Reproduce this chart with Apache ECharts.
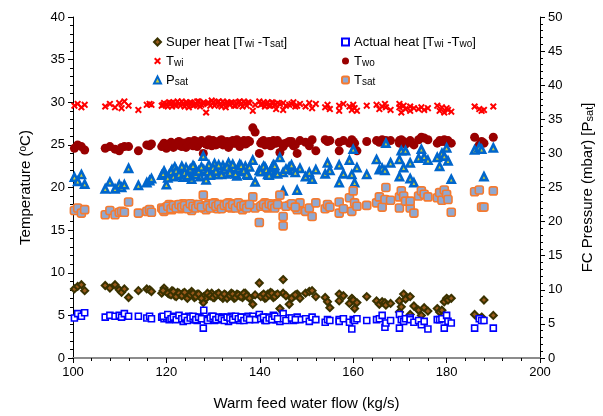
<!DOCTYPE html>
<html><head><meta charset="utf-8">
<script src="https://cdn.jsdelivr.net/npm/echarts@6/dist/echarts.min.js"></script>
<style>html,body{margin:0;padding:0;background:#fff}#c{width:603px;height:416px}</style>
</head><body><div id="c"></div>
<script>
// Warm feed water flow (kg/s)
const flow = [100.3,101.0,101.8,102.5,106.9,107.9,109.0,109.9,110.4,111.0,111.9,114.0,115.8,116.4,116.8,
119.0,119.5,120.0,120.6,121.2,121.8,122.4,123.0,123.6,124.2,124.8,125.4,126.0,126.6,127.2,127.9,128.0,128.5,129.1,129.7,
130.3,130.9,131.5,132.1,132.7,133.3,133.9,134.5,135.1,135.7,136.3,136.9,137.5,138.5,139.0,139.9,140.5,141.1,141.7,142.3,
142.9,143.5,144.3,145.0,145.0,146.3,147.2,148.0,148.6,149.8,150.6,151.2,152.0,154.0,154.5,155.0,157.0,157.0,157.9,159.2,
159.7,160.0,160.3,160.8,162.9,165.0,165.6,166.2,166.8,167.0,168.0,169.9,169.9,170.3,170.8,171.2,172.2,172.2,173.0,174.0,
174.6,175.2,176.0,178.0,178.5,179.0,179.5,180.0,180.3,181.0,186.0,187.0,187.5,188.0,190.0,
119.3,120.3,121.0,121.5,122.1,122.7,123.3,123.9,124.5,125.1,125.7,126.3,126.9,127.5,128.8,129.4,130.0,130.6,131.2,131.8,
132.4,133.0,133.6,134.2,134.8,135.4,136.0,136.6,137.2,137.8,140.2,140.8,141.4,142.0,142.6,143.2,143.8,145.6,146.8,147.6];
// Twi (°C)
const twi = [29.6,29.8,29.4,29.7,29.5,29.8,29.4,29.9,29.3,30.1,29.6,29.1,29.7,29.8,29.7,
29.6,29.9,29.8,30.0,29.5,29.7,30.1,29.6,29.8,30.0,29.4,29.9,29.7,30.1,29.5,29.8,30.0,28.8,29.9,30.2,
29.6,30.0,29.7,30.1,29.4,29.9,30.0,29.6,29.8,30.1,29.5,29.9,30.0,29.0,29.7,30.1,29.8,29.5,30.0,29.6,
29.9,29.2,29.8,29.1,29.9,29.7,30.0,29.6,29.8,29.5,29.9,29.3,29.8,29.4,29.7,29.2,29.6,29.0,29.8,29.5,
29.1,29.7,29.3,29.0,29.6,29.7,29.2,29.5,29.8,29.4,29.1,29.8,29.4,28.8,29.6,29.2,29.5,29.0,29.3,29.2,
29.4,29.1,29.3,29.6,29.0,29.4,28.8,29.3,29.1,28.9,29.5,29.2,29.0,29.1,29.5,
29.7,29.5,29.9,30.0,29.6,29.8,30.1,29.5,29.9,30.0,29.6,29.8,30.1,29.7,29.9,29.6,30.0,29.8,30.1,29.5,
29.9,30.0,29.7,29.9,29.6,30.0,29.8,30.1,29.6,29.9,29.7,30.0,29.8,29.6,30.0,29.7,29.9,29.6,29.8,29.5];
// Two (°C)
const two = [24.6,25.0,24.8,24.4,24.6,24.8,24.5,24.3,24.7,24.8,24.8,24.3,25.0,24.9,25.1,
24.8,25.2,24.6,25.1,25.0,24.9,25.3,24.9,25.2,24.7,25.4,25.0,25.5,24.8,25.2,24.0,25.3,25.1,25.6,24.9,
25.4,25.1,25.5,25.0,25.3,24.7,25.4,25.2,25.6,24.8,25.3,25.1,25.5,27.0,26.5,24.0,25.4,25.0,25.3,24.9,
25.5,25.2,24.1,25.1,24.8,25.4,24.9,24.0,25.5,25.3,24.9,25.6,24.3,25.6,25.4,25.5,24.3,25.3,25.5,25.2,
25.6,25.4,25.2,24.3,25.4,25.5,25.3,25.6,25.4,25.5,25.5,25.5,25.2,25.6,25.4,25.1,25.5,25.3,25.0,25.6,
25.9,25.8,25.6,25.2,25.5,25.4,25.6,25.3,25.5,25.2,25.9,25.0,25.4,25.2,25.9,
25.0,24.9,25.3,24.7,25.1,25.4,24.8,25.2,25.0,25.3,24.9,25.4,25.1,25.5,25.0,25.3,25.5,25.0,25.3,25.6,
25.2,25.4,25.0,25.5,25.2,25.4,25.1,25.5,25.2,25.4,25.2,25.5,25.1,25.4,25.0,25.3,25.5,25.2,25.4,25.0];
// Psat (mbar)
const psat = [26.5,25.9,26.9,25.5,24.8,25.8,24.8,25.4,25.0,25.4,27.8,25.3,25.7,26.0,26.3,
26.8,27.4,25.4,26.9,27.6,28.0,26.8,27.1,26.5,27.9,27.3,26.2,28.0,27.0,26.6,29.6,27.6,26.1,28.3,27.2,
28.5,26.9,27.8,28.2,27.0,28.6,27.4,27.9,26.7,28.4,27.3,28.1,26.8,29.0,25.8,27.5,27.7,28.0,26.9,27.4,
28.3,27.1,29.4,24.5,27.2,28.0,27.5,24.6,27.8,26.6,27.2,26.2,27.6,27.0,28.6,27.5,28.3,25.7,27.0,29.0,
26.9,30.6,25.7,27.9,26.9,29.1,27.6,27.8,27.5,31.5,28.6,29.1,26.6,30.4,27.9,30.4,28.6,26.3,25.7,29.3,
30.6,29.5,29.0,29.4,28.1,30.0,29.6,30.8,28.9,26.2,30.5,30.9,30.6,26.6,30.8,
27.0,26.4,27.3,26.6,27.5,26.9,28.1,27.2,26.7,27.7,28.2,26.9,27.4,28.0,27.3,26.8,27.9,27.4,28.3,26.9,
27.6,28.0,27.2,28.4,27.0,27.8,28.2,27.5,26.9,28.0,27.3,28.1,27.6,26.8,27.9,28.2,27.0,27.7,28.3,27.2];
// Tsat (°C)
const tsat = [17.3,17.6,17.0,17.4,16.8,17.3,16.8,17.1,17.2,17.1,18.3,17.0,17.2,17.4,17.1,
17.6,17.2,17.7,18.0,17.4,17.8,17.9,17.5,18.1,17.6,17.8,17.3,18.0,17.7,17.9,19.1,17.6,17.4,18.1,17.8,
18.2,17.5,17.9,18.0,17.7,18.2,17.6,18.1,17.8,17.9,17.4,18.0,17.7,18.9,17.6,15.9,17.9,18.2,17.6,18.0,
17.8,18.1,19.1,16.6,15.5,17.9,18.0,17.4,18.2,17.2,17.6,16.6,18.2,17.5,18.0,17.7,17.0,18.3,17.5,18.8,
17.2,19.6,18.2,17.8,17.9,18.2,18.9,17.7,18.6,20.0,18.5,18.9,17.6,19.6,19.0,18.4,17.6,18.4,17.0,19.0,
19.6,19.2,18.9,18.8,19.4,18.5,19.7,19.2,18.6,17.1,19.5,19.7,17.7,17.7,19.6,
17.4,17.8,17.5,17.9,17.6,18.0,17.7,17.9,17.5,18.1,17.8,17.6,18.0,17.7,17.9,17.6,18.1,17.8,18.0,17.5,
17.9,18.1,17.7,18.0,17.6,18.2,17.8,17.9,17.6,18.0,17.8,18.0,17.7,18.1,17.9,17.6,18.0,17.8,18.1,17.7];
// Super heat [Twi - Tsat]
const superHeat = [8.1,8.4,8.6,7.9,8.5,8.2,8.6,8.0,7.7,8.1,7.1,7.9,8.1,8.0,7.8,
7.6,8.2,7.8,7.5,7.9,7.3,7.7,7.4,7.6,7.2,7.5,7.8,7.1,7.5,7.3,6.5,7.2,7.0,7.4,7.6,
7.1,7.5,7.3,7.0,7.4,7.2,7.6,7.0,7.5,7.3,7.1,7.6,7.2,6.3,7.4,8.8,7.3,7.0,7.5,7.7,
7.1,7.4,5.8,9.2,7.6,6.3,7.2,7.5,7.0,7.6,7.8,7.9,7.2,7.1,6.6,5.9,7.5,6.7,7.3,6.4,
7.0,6.8,5.8,6.5,7.2,6.7,6.3,6.6,6.5,6.2,6.4,6.7,5.4,6.0,7.5,6.9,7.2,5.1,6.1,5.6,
5.0,5.9,5.5,5.8,5.4,5.6,6.6,7.0,6.8,7.0,5.1,4.6,4.8,6.8,5.0,
7.9,7.6,7.4,7.8,7.2,7.6,7.3,7.7,7.0,7.4,7.6,7.2,7.5,7.0,7.6,7.3,7.1,7.4,7.6,7.2,
7.5,7.0,7.3,7.5,7.1,7.4,7.2,7.6,7.3,7.0,7.2,7.5,7.1,7.4,7.6,7.2,7.5,7.3,7.0,7.4];
// Actual heat [Twi - Two]
const actualHeat = [4.7,5.2,4.9,5.3,4.8,5.0,4.9,5.0,4.8,5.2,4.9,4.9,4.7,4.9,4.6,
4.8,4.6,4.7,4.5,4.9,4.6,4.8,4.7,4.3,4.6,4.9,4.5,4.8,4.4,4.7,3.5,5.6,4.6,4.5,4.9,
4.4,4.7,4.5,4.8,4.6,4.3,4.9,4.5,4.7,4.4,4.8,4.6,4.9,4.9,4.5,5.1,4.7,4.4,4.8,4.6,
5.0,4.5,4.3,5.2,4.6,4.7,4.4,4.8,4.5,4.6,4.3,4.8,4.5,4.2,4.5,4.4,4.5,4.3,4.6,4.2,
3.4,4.5,4.4,4.6,4.4,4.5,4.6,5.0,3.6,4.1,4.4,5.1,3.5,4.5,4.3,4.6,4.7,4.5,4.2,4.4,
3.9,4.3,3.4,4.5,4.5,4.6,3.5,5.0,4.3,4.1,3.5,4.6,4.4,4.4,3.5,
4.9,5.1,4.6,4.8,4.5,5.0,4.6,4.8,4.4,4.7,4.9,4.5,4.8,4.6,4.4,4.7,4.9,4.5,4.8,4.6,
4.4,4.8,4.7,4.5,4.9,4.6,4.8,4.4,4.7,4.5,4.6,4.8,4.4,4.7,4.5,4.9,4.6,4.4,4.7,4.5];
const xTicks = {min: 100, max: 200, interval: 20};
const yLeftTicks = {min: 0, max: 40, interval: 5};
const yRightTicks = {min: 0, max: 50, interval: 5};

const FONT = '"Liberation Sans", Arial, sans-serif';
const pairs = arr => flow.map((f, i) => [f, arr[i]]);
const XPATH = 'path://M2,0 L5,3 L8,0 L10,2 L7,5 L10,8 L8,10 L5,7 L2,10 L0,8 L3,5 L0,2 Z';

const labelRich = {
  s: {fontSize: 10, lineHeight: 10, verticalAlign: 'bottom', fontFamily: FONT, color: '#000', padding: [4, 0, 0, 0]}
};
const legendNames = {
  'Super heat': 'Super heat [T{s|wi} -T{s|sat}]',
  'Actual heat': 'Actual heat [T{s|wi} -T{s|wo}]',
  'Twi': 'T{s|wi}',
  'Two': 'T{s|wo}',
  'Psat': 'P{s|sat}',
  'Tsat': 'T{s|sat}'
};
const legendCommon = {
  orient: 'vertical',
  itemWidth: 7, itemHeight: 7, itemGap: 5,
  textStyle: {fontSize: 13, lineHeight: 14, fontFamily: FONT, color: '#000', rich: labelRich},
  formatter: n => legendNames[n]
};

const chart = echarts.init(document.getElementById('c'), null, {renderer: 'canvas'});
const axisLine = {show: true, lineStyle: {color: '#000', width: 1}};
chart.setOption({
  animation: false,
  backgroundColor: '#fff',
  textStyle: {fontFamily: FONT},
  grid: {left: 73, right: 63, top: 17, bottom: 57, containLabel: false},
  legend: [
    Object.assign({left: 148, top: 30, data: ['Super heat', 'Twi', 'Psat']}, legendCommon),
    Object.assign({left: 336, top: 30, data: ['Actual heat', 'Two', 'Tsat']}, legendCommon)
  ],
  xAxis: [{
    type: 'value', min: xTicks.min, max: xTicks.max, interval: xTicks.interval,
    name: 'Warm feed water flow (kg/s)', nameLocation: 'middle', nameGap: 38,
    nameTextStyle: {fontSize: 15, color: '#000', fontFamily: FONT},
    axisLine: axisLine, splitLine: {show: false},
    axisTick: {show: true, length: 5, lineStyle: {color: '#000'}},
    minorTick: {show: true, splitNumber: 5, length: 3, lineStyle: {color: '#000'}},
    axisLabel: {fontSize: 13, color: '#000', margin: 8, fontFamily: FONT}
  }, {
    type: 'value', position: 'top', min: xTicks.min, max: xTicks.max,
    axisLine: {show: true, lineStyle: {color: '#8c8c8c', width: 2}},
    axisTick: {show: false}, axisLabel: {show: false}, splitLine: {show: false}
  }],
  yAxis: [{
    type: 'value', min: yLeftTicks.min, max: yLeftTicks.max, interval: yLeftTicks.interval,
    name: 'Temperature ({sup|o}C)', nameLocation: 'middle', nameGap: 40,
    nameTextStyle: {fontSize: 15, color: '#000', fontFamily: FONT,
      rich: {sup: {fontSize: 10, verticalAlign: 'top', lineHeight: 10, fontFamily: FONT, color: '#000'}}},
    axisLine: axisLine, splitLine: {show: false},
    axisTick: {show: true, length: 5, lineStyle: {color: '#000'}},
    minorTick: {show: true, splitNumber: 5, length: 3, lineStyle: {color: '#000'}},
    axisLabel: {fontSize: 13, color: '#000', margin: 8, fontFamily: FONT}
  }, {
    type: 'value', position: 'right', min: yRightTicks.min, max: yRightTicks.max, interval: yRightTicks.interval,
    name: 'FC Pressure (mbar) [P{s|sat}]', nameLocation: 'middle', nameGap: 40, nameRotate: 90,
    nameTextStyle: {fontSize: 15, color: '#000', fontFamily: FONT,
      rich: {s: {fontSize: 11, verticalAlign: 'bottom', lineHeight: 11, fontFamily: FONT, color: '#000'}}},
    axisLine: axisLine, splitLine: {show: false},
    axisTick: {show: true, length: 5, lineStyle: {color: '#000'}},
    minorTick: {show: true, splitNumber: 5, length: 3, lineStyle: {color: '#000'}},
    axisLabel: {fontSize: 13, color: '#000', margin: 8, fontFamily: FONT}
  }],
  series: [
    {name: 'Super heat', type: 'scatter', data: pairs(superHeat), symbol: 'diamond', symbolSize: 7,
     itemStyle: {color: '#9a5a1c', borderColor: '#3a3200', borderWidth: 2, opacity: 1}},
    {name: 'Actual heat', type: 'scatter', data: pairs(actualHeat), symbol: 'rect', symbolSize: 6,
     itemStyle: {color: '#fff', borderColor: '#0000ff', borderWidth: 1.6, opacity: 1}},
    {name: 'Twi', type: 'scatter', data: pairs(twi), symbol: XPATH, symbolSize: 7,
     itemStyle: {color: '#ff0000', opacity: 1}},
    {name: 'Two', type: 'scatter', data: pairs(two), symbol: 'circle', symbolSize: 9,
     itemStyle: {color: '#990000', opacity: 1}},
    {name: 'Psat', type: 'scatter', yAxisIndex: 1, data: pairs(psat), symbol: 'triangle', symbolSize: 7,
     itemStyle: {color: '#c8d040', borderColor: '#0066cc', borderWidth: 2.6, opacity: 1}},
    {name: 'Tsat', type: 'scatter', data: pairs(tsat), symbol: 'roundRect', symbolSize: 8,
     itemStyle: {color: '#90a8d0', borderColor: '#f47a30', borderWidth: 1.6, opacity: 1}}
  ]
});
</script></body></html>
